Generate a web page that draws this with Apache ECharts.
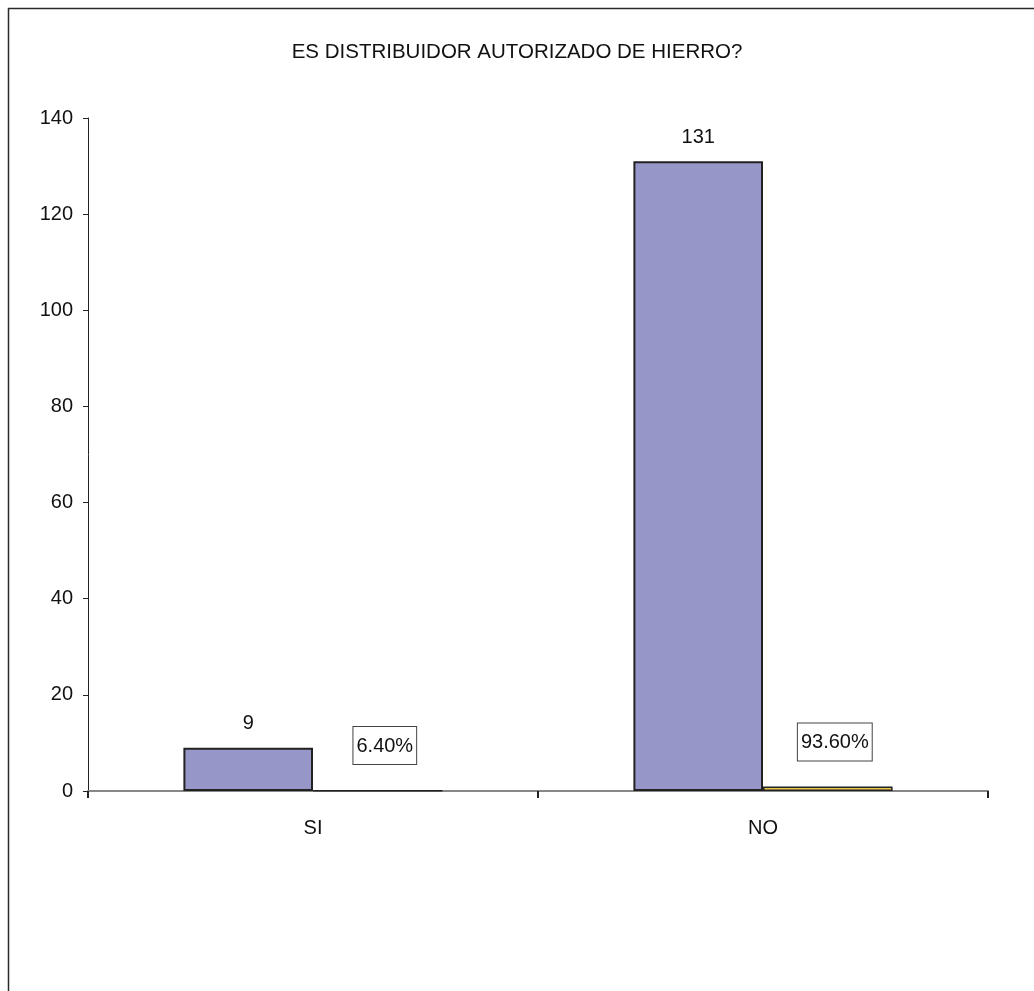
<!DOCTYPE html>
<html><head><meta charset="utf-8">
<script src="https://cdn.jsdelivr.net/npm/echarts@6/dist/echarts.min.js"></script>
<style>html,body{margin:0;padding:0;background:#fff}#c{width:1034px;height:991px}</style>
</head><body><div id="c"></div>
<script>
const title = 'ES DISTRIBUIDOR AUTORIZADO DE HIERRO?';
const categories = ['SI', 'NO'];
const counts = [9, 131];
const shares = [0.064, 0.936];
const shareLabels = ['6.40%', '93.60%'];
const yTicks = [0, 20, 40, 60, 80, 100, 120, 140];

const chart = echarts.init(document.getElementById('c'), null, {renderer: 'canvas'});
const font = '"Liberation Sans", Arial, sans-serif';
chart.setOption({
  animation: false,
  backgroundColor: '#fff',
  graphic: [{
    type: 'rect', shape: {x: 8.5, y: 8.5, width: 3000, height: 3000},
    style: {fill: 'none', stroke: '#2a2a2a', lineWidth: 1.5}, silent: true
  }],
  title: {
    text: title, left: 'center', top: 37,
    textStyle: {fontFamily: font, fontSize: 20.5, fontWeight: 'normal', color: '#111'}
  },
  grid: {left: 88, right: 46, top: 118, bottom: 200, containLabel: false},
  xAxis: {
    type: 'category', data: categories,
    axisLine: {lineStyle: {color: '#888', width: 2}},
    axisTick: {show: true, length: 7, inside: false, lineStyle: {color: '#222', width: 2}},
    axisLabel: {fontFamily: font, fontSize: 20, color: '#111', margin: 27},
    splitLine: {show: false}
  },
  yAxis: {
    type: 'value', min: yTicks[0], max: yTicks[yTicks.length - 1], interval: 20,
    axisLine: {show: true, lineStyle: {color: '#222', width: 1}},
    axisTick: {show: true, length: 5, lineStyle: {color: '#222'}},
    axisLabel: {fontFamily: font, fontSize: 20, color: '#111', margin: 15},
    splitLine: {show: false}
  },
  series: [
    {
      type: 'bar', data: counts, barGap: '0%', barCategoryGap: '42.4%',
      itemStyle: {color: '#9696C8', borderColor: '#222', borderWidth: 2},
      label: {show: true, position: 'top', distance: 14, fontFamily: font, fontSize: 20, color: '#111'}
    },
    {
      type: 'bar', data: shares, barGap: '0%', barCategoryGap: '42.4%',
      itemStyle: {color: '#E9C84A', borderColor: '#222', borderWidth: 1.5},
      label: {
        show: true, position: 'top', distance: 26, offset: [7, 0],
        formatter: p => shareLabels[p.dataIndex],
        fontFamily: font, fontSize: 20, color: '#111',
        backgroundColor: '#fff', borderColor: '#444', borderWidth: 1, padding: [9, 3, 8, 3]
      }
    }
  ]
});
</script></body></html>
